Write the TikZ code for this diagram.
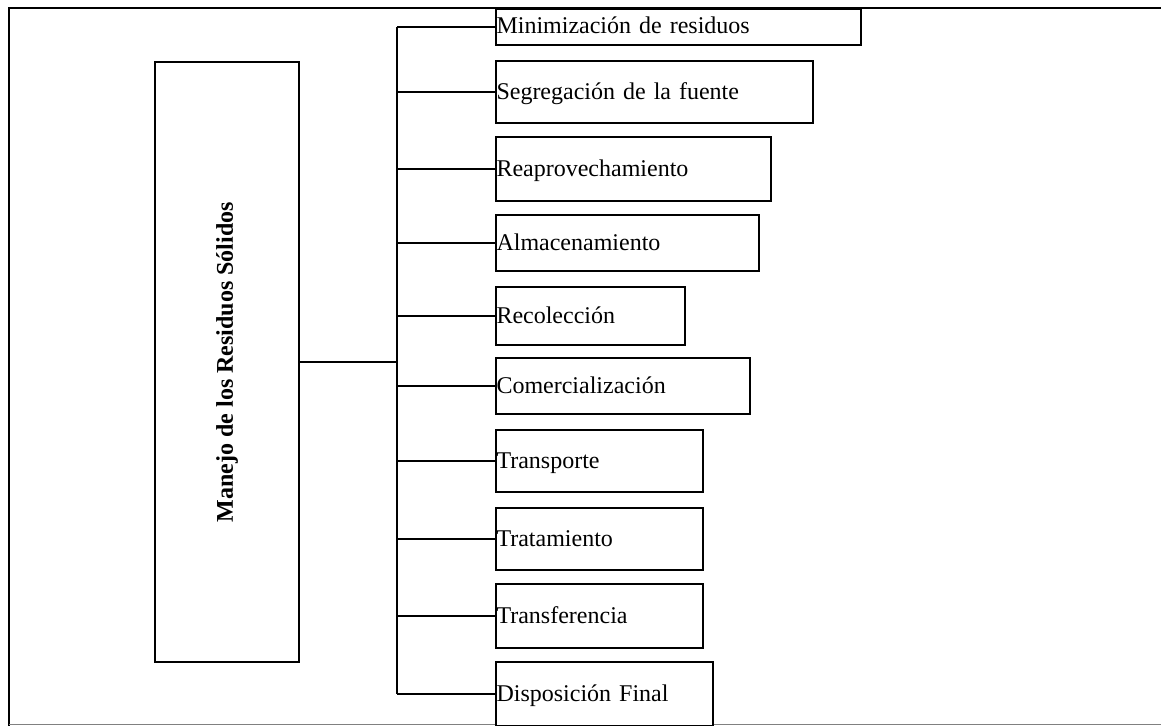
\documentclass[tikz,border=0pt]{standalone}
\usepackage{fontspec}
\usepackage{graphicx}
\setmainfont{Liberation Serif}
\begin{document}
\begin{tikzpicture}[x=1pt, y=-1pt,
  frameline/.style={line width=2pt, draw=black},
  basebox/.style={draw=black, line width=2pt, fill=white},
  mainbox/.style={basebox, minimum width=144pt, minimum height=600pt, inner sep=0pt},
  stagebox/.style={basebox, anchor=west, inner xsep=0.5pt, inner ysep=0pt,
    text height=17pt, text depth=3pt, align=left,
    font=\fontsize{24}{28}\selectfont},
  link/.style={line width=2pt, draw=black}]
\useasboundingbox (0,0) rectangle (1161,725);
\clip (0,0) rectangle (1161,725);

% outer frame
\draw[frameline] (1162,8) -- (9,8) -- (9,726);
\draw[gray, line width=1pt] (9,724) -- (1162,724);

% main box
\node[mainbox] (main) at (227,362)
  {\rotatebox{90}{\fontsize{24}{28}\selectfont\bfseries Manejo de los Residuos Sólidos}};

% stages
\node[stagebox, minimum height=36pt, text width=364pt] (s1) at (495,27) {Minimización de residuos};
\node[stagebox, minimum height=62pt, text width=316pt] (s2) at (495,92) {Segregación de la fuente};
\node[stagebox, minimum height=64pt, text width=274pt] (s3) at (495,169) {Reaprovechamiento};
\node[stagebox, minimum height=56pt, text width=262pt] (s4) at (495,243) {Almacenamiento};
\node[stagebox, minimum height=58pt, text width=188pt] (s5) at (495,316) {Recolección};
\node[stagebox, minimum height=56pt, text width=253pt] (s6) at (495,386) {Comercialización};
\node[stagebox, minimum height=62pt, text width=206pt] (s7) at (495,461) {Transporte};
\node[stagebox, minimum height=62pt, text width=206pt] (s8) at (495,539) {Tratamiento};
\node[stagebox, minimum height=64pt, text width=206pt] (s9) at (495,616) {Transferencia};
\node[stagebox, minimum height=64pt, text width=216pt] (s10) at (495,694) {Disposición Final};

% spine and branches
\coordinate (spine) at (397,0);
\draw[link] (spine |- s1.west) -- (spine |- s10.west);
\draw[link] (main.east) -- (main.east -| spine);
\foreach \s in {s1,s2,s3,s4,s5,s6,s7,s8,s9,s10}
  \draw[link] (spine |- \s.west) -- (\s.west);
\end{tikzpicture}
\end{document}
